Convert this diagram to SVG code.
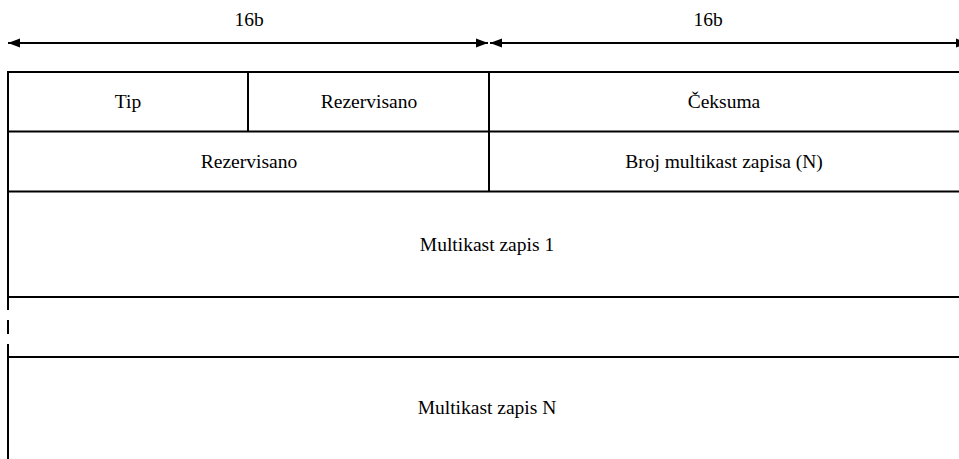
<svg xmlns="http://www.w3.org/2000/svg" width="959" height="459" viewBox="0 0 959 459">
  <style>
    .ln { stroke: #000; stroke-width: 2; fill: none; }
    .lbl { font-family: 'Liberation Serif', 'Times New Roman', Times, 'DejaVu Serif', serif; font-size: 19.5px; fill: #000; text-anchor: middle; }
  </style>
  <defs>
    <marker id="arrowEnd" markerUnits="userSpaceOnUse" markerWidth="13" markerHeight="10" refX="12" refY="5" orient="auto">
      <path d="M0,0.5 L12,5 L0,9.5 Z" fill="#000"/>
    </marker>
    <marker id="arrowStart" markerUnits="userSpaceOnUse" markerWidth="13" markerHeight="10" refX="0" refY="5" orient="auto">
      <path d="M12,0.5 L0,5 L12,9.5 Z" fill="#000"/>
    </marker>
  </defs>
  <rect width="959" height="459" fill="#fff"/>

  <!-- bit-width dimension arrows -->
  <g id="connectors">
    <line class="ln" x1="8" y1="43" x2="488" y2="43" marker-start="url(#arrowStart)" marker-end="url(#arrowEnd)"/>
    <line class="ln" x1="490" y1="43" x2="968" y2="43" marker-start="url(#arrowStart)" marker-end="url(#arrowEnd)"/>
  </g>
  <g id="width-labels">
    <text class="lbl" x="249" y="26" font-family="Liberation Serif, serif">16b</text>
    <text class="lbl" x="708" y="26" font-family="Liberation Serif, serif">16b</text>
  </g>

  <!-- packet grid -->
  <g id="grid">
    <line class="ln" x1="7" y1="72" x2="959" y2="72"/>
    <line class="ln" x1="8" y1="131.5" x2="959" y2="131.5"/>
    <line class="ln" x1="8" y1="191.5" x2="959" y2="191.5"/>
    <line class="ln" x1="8" y1="297" x2="959" y2="297"/>
    <line class="ln" x1="8" y1="357" x2="959" y2="357"/>
    <line class="ln" x1="8" y1="72" x2="8" y2="310"/>
    <line class="ln" x1="8" y1="320" x2="8" y2="334"/>
    <line class="ln" x1="8" y1="344" x2="8" y2="459"/>
    <line class="ln" x1="248" y1="72" x2="248" y2="131.5"/>
    <line class="ln" x1="489" y1="72" x2="489" y2="191.5"/>
  </g>

  <g id="tip"><text class="lbl" x="128" y="108">Tip</text></g>
  <g id="rezervisano1"><text class="lbl" x="369" y="108">Rezervisano</text></g>
  <g id="ceksuma"><text class="lbl" x="724" y="108">Čeksuma</text></g>
  <g id="rezervisano2"><text class="lbl" x="249" y="168">Rezervisano</text></g>
  <g id="broj-zapisa"><text class="lbl" x="724" y="168">Broj multikast zapisa (N)</text></g>
  <g id="zapis-1"><text class="lbl" x="487" y="251">Multikast zapis 1</text></g>
  <g id="zapis-n"><text class="lbl" x="487" y="414">Multikast zapis N</text></g>
</svg>
